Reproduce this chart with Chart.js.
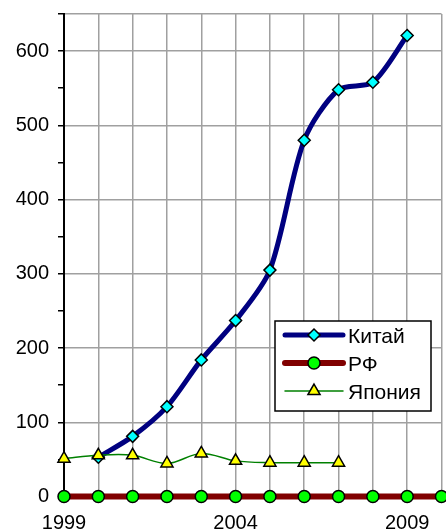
<!DOCTYPE html>
<html>
<head>
<meta charset="utf-8">
<script src="https://cdn.jsdelivr.net/npm/chart.js@4/dist/chart.umd.min.js"></script>
<style>
  html, body { margin: 0; padding: 0; background: #fff; }
  #wrap { position: relative; width: 446px; height: 531px; }
</style>
</head>
<body>
<div id="wrap"><canvas id="chart"></canvas></div>
<script>
// data
const years = [1999, 2000, 2001, 2002, 2003, 2004, 2005, 2006, 2007, 2008, 2009, 2010];
const china = [null, 53, 81, 121, 184, 237, 305, 480, 548, 558, 621, null];
const rf = [0, 0, 0, 0, 0, 0, 0, 0, 0, 0, 0, 0];
const japan = [51, 55.5, 55.5, 44.5, 58, 48, 45.5, 45.5, 45.5, null, null, null];
const shownYears = [1999, 2004, 2009];
const seriesNames = ["Китай", "РФ", "Япония"];

const FONT = "'Liberation Sans', Arial, sans-serif";

// legend drawn inside the plot, like the original
const legendBox = {
    id: "legendBox",
    afterDatasetsDraw(chart) {
        const ctx = chart.ctx;
        const a = chart.chartArea;
        const left = a.left + 211, top = a.top + 307, w = 156, h = 90;
        ctx.save();
        ctx.fillStyle = "#fff";
        ctx.fillRect(left, top, w, h);
        ctx.strokeStyle = "#000";
        ctx.lineWidth = 1.5;
        ctx.strokeRect(left, top, w, h);

        [0, 1, 2].forEach((i, row) => {
            const ds = chart.data.datasets[i];
            const y = top + 14 + row * 28;
            const x0 = left + 10, x1 = left + 68, xm = (x0 + x1) / 2;
            ctx.strokeStyle = ds.borderColor;
            ctx.lineWidth = ds.borderWidth;
            ctx.lineCap = "round";
            ctx.beginPath();
            ctx.moveTo(x0, y);
            ctx.lineTo(x1, y);
            ctx.stroke();

            const r = ds.pointRadius;
            ctx.fillStyle = ds.pointBackgroundColor;
            ctx.strokeStyle = ds.pointBorderColor;
            ctx.lineWidth = ds.pointBorderWidth;
            ctx.beginPath();
            if (ds.pointStyle === "rectRot") {
                ctx.moveTo(xm, y - r);
                ctx.lineTo(xm + r, y);
                ctx.lineTo(xm, y + r);
                ctx.lineTo(xm - r, y);
                ctx.closePath();
            } else if (ds.pointStyle === "triangle") {
                ctx.moveTo(xm, y - r);
                ctx.lineTo(xm + r * 0.866, y + r / 2);
                ctx.lineTo(xm - r * 0.866, y + r / 2);
                ctx.closePath();
            } else {
                ctx.arc(xm, y, r, 0, Math.PI * 2);
            }
            ctx.fill();
            ctx.stroke();

            ctx.fillStyle = "#000";
            ctx.font = "21px " + FONT;
            ctx.textBaseline = "middle";
            ctx.textAlign = "left";
            ctx.fillText(ds.label, x1 + 5, y + 2);
        });
        ctx.restore();
    }
};

const ctx = document.getElementById("chart");

new Chart(ctx, {
    type: "line",
    data: {
        labels: years,
        datasets: [
            {
                label: seriesNames[0],
                data: china,
                borderColor: "#000080",
                borderWidth: 5,
                tension: 0.28,
                pointStyle: "rectRot",
                pointRadius: 6,
                pointBackgroundColor: "#00ffff",
                pointBorderColor: "#000",
                pointBorderWidth: 1.5,
                clip: false,
                order: 1
            },
            {
                label: seriesNames[1],
                data: rf,
                borderColor: "#800000",
                borderWidth: 6,
                tension: 0,
                pointStyle: "circle",
                pointRadius: 6,
                pointBackgroundColor: "#00ff00",
                pointBorderColor: "#000",
                pointBorderWidth: 1.5,
                clip: false,
                order: 2
            },
            {
                label: seriesNames[2],
                data: japan,
                borderColor: "#008000",
                borderWidth: 1.5,
                tension: 0.35,
                pointStyle: "triangle",
                pointRadius: 7,
                pointBackgroundColor: "#ffff00",
                pointBorderColor: "#000",
                pointBorderWidth: 1.5,
                clip: false,
                order: 0
            }
        ]
    },
    options: {
        responsive: true,
        maintainAspectRatio: false,
        animation: false,
        layout: {
            autoPadding: false,
            padding: { top: 14, right: 4.5, left: 0, bottom: 0 }
        },
        plugins: {
            legend: { display: false },
            tooltip: { enabled: false }
        },
        scales: {
            x: {
                offset: false,
                afterFit: (s) => {
                    s.height = 34.5;
                    s.paddingLeft = 0;
                    s.paddingRight = 0;
                },
                border: { color: "#000", width: 2 },
                grid: {
                    color: "#a0a0a0",
                    lineWidth: 1.5,
                    drawTicks: false
                },
                ticks: {
                    autoSkip: false,
                    maxRotation: 0,
                    padding: 15,
                    color: "#000",
                    font: { family: FONT, size: 20 },
                    callback: function (value, index) {
                        const yr = years[index];
                        return shownYears.includes(yr) ? String(yr) : "";
                    }
                }
            },
            y: {
                min: 0,
                max: 650,
                afterFit: (s) => {
                    s.width = 64;
                    s.paddingTop = 0;
                    s.paddingBottom = 0;
                },
                border: { color: "#000", width: 2 },
                grid: {
                    color: (c) => {
                        const v = c.tick ? c.tick.value : 0;
                        return (v % 100 === 0 || v === 650) ? "#a0a0a0" : "rgba(0,0,0,0)";
                    },
                    lineWidth: 1.5,
                    tickColor: "#000",
                    tickLength: 6,
                    tickWidth: 1.5
                },
                ticks: {
                    stepSize: 50,
                    padding: 9,
                    color: "#000",
                    font: { family: FONT, size: 20 },
                    callback: (v) => (v % 100 === 0 ? v : "")
                }
            }
        }
    },
    plugins: [legendBox]
});
</script>
</body>
</html>
